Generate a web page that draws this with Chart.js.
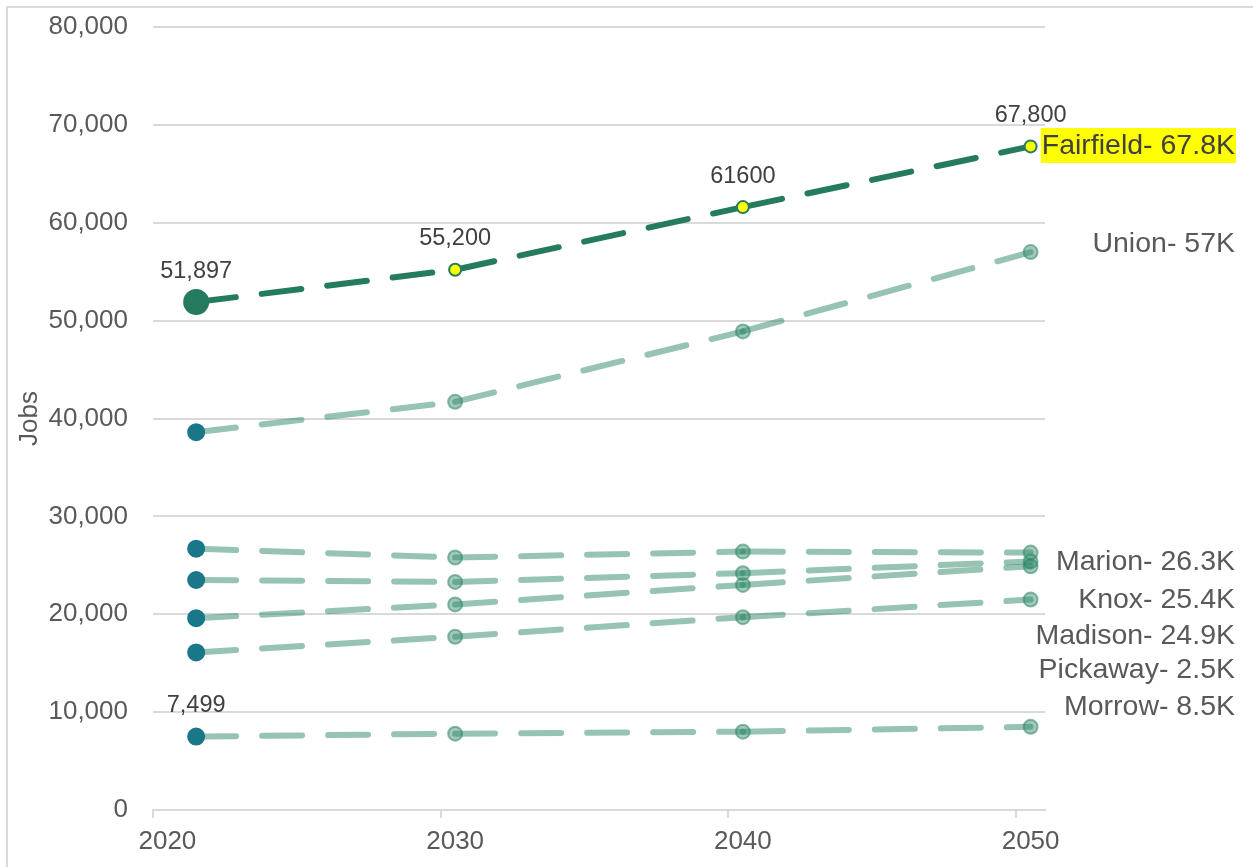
<!DOCTYPE html>
<html>
<head>
<meta charset="utf-8">
<title>Jobs forecast</title>
<script src="https://cdn.jsdelivr.net/npm/chart.js@4.4.0/dist/chart.umd.min.js"></script>
<style>
  html, body { margin: 0; padding: 0; background: #fff; }
  #wrap { position: relative; width: 1253px; height: 867px; overflow: hidden; }
  #frame { position: absolute; left: 6px; top: 6px; width: 1400px; height: 1000px;
           border-left: 2px solid #d9d9d9; border-top: 2px solid #d9d9d9; }
  canvas { position: absolute; left: 0; top: 0; }
</style>
</head>
<body>
<div id="wrap">
  <div id="frame"></div>
  <canvas id="jobsChart" width="1253" height="867"></canvas>
</div>
<script>
// values
const years = [2021, 2030, 2040, 2050];
const fairfield = [51897, 55200, 61600, 67800];
const union = [38600, 41700, 48900, 57000];
const marion = [26700, 25800, 26400, 26300];
const knox = [23500, 23300, 24200, 25400];
const madison = [19600, 21000, 23000, 24900];
const pickaway = [16100, 17700, 19700, 21500];
const morrow = [7499, 7800, 8000, 8500];

const xTicks = [2020, 2030, 2040, 2050];
const fairfieldLabels = ["51,897", "55,200", "61600", "67,800"];
const morrowLabels = ["7,499", "", "", ""];
const endLabels = ["Fairfield- 67.8K", "Union- 57K", "Marion- 26.3K", "Knox- 25.4K",
                   "Madison- 24.9K", "Pickaway- 2.5K", "Morrow- 8.5K"];
const endLabelValues = [67840, 57830, 25340, 21460, 17780, 14300, 10520];

const FONT = "'Liberation Sans', Arial, sans-serif";
const GREY = "#595959";
const DARK = "#257b5f";
const TEAL = "#1a7789";
const LIGHT_LINE = "rgba(47, 135, 102, 0.5)";
const LIGHT_FILL = "rgba(47, 135, 102, 0.45)";
const LIGHT_EDGE = "rgba(47, 135, 102, 0.55)";

const toXY = (vals) => years.map((x, i) => ({ x: x, y: vals[i] }));

// tiny per-segment offset -> each segment is stroked on its own, so the dash restarts at every point
const restartDash = { borderDashOffset: (c) => c.p0DataIndex * 0.001 };

function lightSeries(label, vals) {
  return {
    label: label,
    data: toXY(vals),
    borderColor: LIGHT_LINE,
    borderWidth: 6,
    borderDash: [40, 26],
    borderCapStyle: "round",
    segment: restartDash,
    tension: 0,
    pointRadius: [8, 7, 7, 7],
    pointBorderWidth: 2,
    pointBackgroundColor: [TEAL, LIGHT_FILL, LIGHT_FILL, LIGHT_FILL],
    pointBorderColor: [TEAL, LIGHT_EDGE, LIGHT_EDGE, LIGHT_EDGE],
  };
}

const datasets = [
  {
    label: "Fairfield",
    data: toXY(fairfield),
    borderColor: DARK,
    borderWidth: 6,
    borderDash: [40, 26],
    borderCapStyle: "round",
    segment: restartDash,
    tension: 0,
    pointRadius: [12, 6, 6, 6],
    pointBorderWidth: 2,
    pointBackgroundColor: [DARK, "#ffff00", "#ffff00", "#ffff00"],
    pointBorderColor: DARK,
    valueLabels: fairfieldLabels,
  },
  lightSeries("Union", union),
  lightSeries("Marion", marion),
  lightSeries("Knox", knox),
  lightSeries("Madison", madison),
  lightSeries("Pickaway", pickaway),
  Object.assign(lightSeries("Morrow", morrow), { valueLabels: morrowLabels }),
];

// short tick marks under the axis, half a year left of each label (as in the original)
const tickMarks = {
  id: "tickMarks",
  afterDraw(chart) {
    const ctx = chart.ctx;
    const x = chart.scales.x;
    const bottom = chart.chartArea.bottom;
    ctx.save();
    ctx.strokeStyle = "#d9d9d9";
    ctx.lineWidth = 2;
    xTicks.forEach((v) => {
      const px = Math.round(x.getPixelForValue(v - 0.5));
      ctx.beginPath();
      ctx.moveTo(px, bottom);
      ctx.lineTo(px, bottom + 8);
      ctx.stroke();
    });
    ctx.restore();
  },
};

// value labels above points + names on the right
const textLabels = {
  id: "textLabels",
  afterDatasetsDraw(chart) {
    const ctx = chart.ctx;
    ctx.save();
    ctx.font = "23.5px " + FONT;
    ctx.fillStyle = "#404040";
    ctx.textAlign = "center";
    ctx.textBaseline = "middle";
    chart.data.datasets.forEach((ds, di) => {
      if (!ds.valueLabels) return;
      const meta = chart.getDatasetMeta(di);
      ds.valueLabels.forEach((txt, i) => {
        if (!txt) return;
        const pt = meta.data[i];
        ctx.fillText(txt, pt.x, pt.y - 31);
      });
    });

    const y = chart.scales.y;
    const right = chart.width - 18;
    ctx.font = "28.5px " + FONT;
    ctx.textAlign = "right";
    endLabels.forEach((txt, i) => {
      const py = y.getPixelForValue(endLabelValues[i]);
      if (i === 0) {
        const w = ctx.measureText(txt).width;
        ctx.fillStyle = "#ffff00";
        ctx.fillRect(right - w - 1, py - 18, w + 2, 35);
        ctx.fillStyle = "#404040";
      } else {
        ctx.fillStyle = GREY;
      }
      ctx.fillText(txt, right, py);
    });
    ctx.restore();
  },
};

new Chart(document.getElementById("jobsChart"), {
  type: "line",
  data: { datasets: datasets },
  options: {
    responsive: false,
    animation: false,
    events: [],
    layout: { padding: { left: 0, top: 27, right: 208, bottom: 0 } },
    plugins: { legend: { display: false }, tooltip: { enabled: false } },
    scales: {
      x: {
        type: "linear",
        min: 2019.5,
        max: 2050.5,
        afterBuildTicks: (s) => { s.ticks = xTicks.map((v) => ({ value: v })); },
        afterFit: (s) => { s.height = 57; },
        grid: { display: false, drawTicks: false },
        border: { display: true, color: "#d9d9d9", width: 2 },
        ticks: {
          color: GREY,
          font: { family: FONT, size: 26 },
          padding: 16,
          maxRotation: 0,
          autoSkip: false,
          callback: (v) => String(v),
        },
      },
      y: {
        min: 0,
        max: 80000,
        afterFit: (s) => {
          s.width = 153;
          s.paddingTop = 0;
          s.paddingBottom = 0;
        },
        grid: { color: "#d9d9d9", lineWidth: 2, drawTicks: false },
        border: { display: false },
        ticks: {
          stepSize: 10000,
          color: GREY,
          font: { family: FONT, size: 26 },
          padding: 25,
        },
        title: {
          display: true,
          text: "Jobs",
          color: GREY,
          font: { family: FONT, size: 26 },
          padding: { top: 14, bottom: 0 },
        },
      },
    },
  },
  plugins: [tickMarks, textLabels],
});
</script>
</body>
</html>
